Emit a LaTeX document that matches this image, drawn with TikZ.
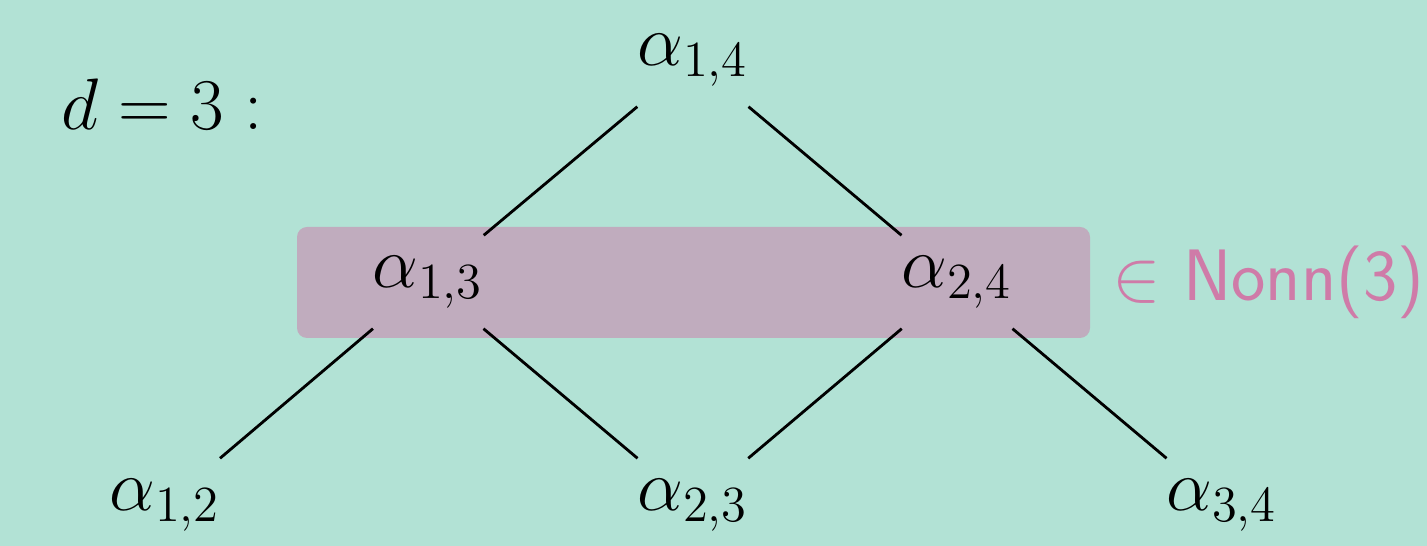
\documentclass[tikz,border=0pt]{standalone}
\usetikzlibrary{positioning}

\definecolor{bgteal}{RGB}{178,226,213}
\definecolor{boxmauve}{RGB}{192,172,190}
\definecolor{nonnpink}{RGB}{207,123,168}

\tikzset{
    alphanode/.style={minimum height=0.92cm, minimum width=1.4cm, inner sep=0pt,
                      font=\huge},
    treeedge/.style={line width=0.8pt, black}
}

\begin{document}
\begin{tikzpicture}

                %----- BACKGROUND -----
                \useasboundingbox (0,0) rectangle (14.27,5.46);
                \fill[bgteal] (0,0) rectangle (14.27,5.46);

                %----- HIGHLIGHT BOX -----
                \fill[boxmauve, rounded corners=0.1cm]
                    (2.97,2.08) rectangle (10.90,3.19);

                %----- LABEL -----
                \node[font=\huge] (dlabel) at (1.62,4.42) {$d=3:$};

                %----- NODES -----
                \node[alphanode] (a14) at (6.93,4.86) {$\alpha_{1,4}$};
                \node[alphanode] (a13) at (4.28,2.64) {$\alpha_{1,3}$};
                \node[alphanode] (a24) at (9.57,2.64) {$\alpha_{2,4}$};
                \node[alphanode] (a12) at (1.65,0.41) {$\alpha_{1,2}$};
                \node[alphanode] (a23) at (6.93,0.41) {$\alpha_{2,3}$};
                \node[alphanode] (a34) at (12.22,0.41) {$\alpha_{3,4}$};

                %----- NONN TAG -----
                \node[anchor=west, text=nonnpink, inner sep=0pt, font=\huge]
                    (nonn) at (11.12,2.64) {$\in$ \textsf{Nonn(3)}};

                %----- EDGES -----
                \draw[treeedge] (a14) -- (a13);
                \draw[treeedge] (a14) -- (a24);
                \draw[treeedge] (a13) -- (a12);
                \draw[treeedge] (a13) -- (a23);
                \draw[treeedge] (a24) -- (a23);
                \draw[treeedge] (a24) -- (a34);

\end{tikzpicture}
\end{document}
